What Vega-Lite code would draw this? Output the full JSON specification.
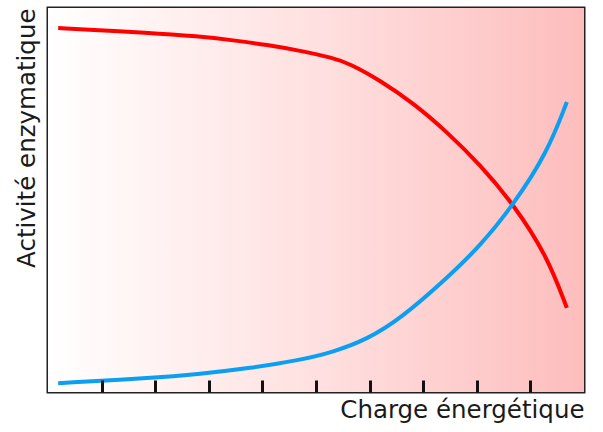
{
  "$schema": "https://vega.github.io/schema/vega-lite/v6.json",
  "width": 536,
  "height": 384,
  "autosize": "none",
  "padding": {"left": 48, "top": 8, "right": 19, "bottom": 40},
  "background": "white",
  "config": {
    "view": {"stroke": "#222222", "strokeWidth": 3},
    "font": "DejaVu Sans"
  },
  "datasets": {
    "curves": [
      {"series": "red", "x": 0.19, "y": 0.948},
      {"series": "red", "x": 1.10, "y": 0.941},
      {"series": "red", "x": 1.72, "y": 0.937},
      {"series": "red", "x": 2.84, "y": 0.926},
      {"series": "red", "x": 3.45, "y": 0.916},
      {"series": "red", "x": 4.09, "y": 0.904},
      {"series": "red", "x": 4.70, "y": 0.889},
      {"series": "red", "x": 5.32, "y": 0.870},
      {"series": "red", "x": 5.63, "y": 0.855},
      {"series": "red", "x": 6.19, "y": 0.812},
      {"series": "red", "x": 6.81, "y": 0.753},
      {"series": "red", "x": 7.44, "y": 0.678},
      {"series": "red", "x": 8.06, "y": 0.592},
      {"series": "red", "x": 8.68, "y": 0.490},
      {"series": "red", "x": 9.31, "y": 0.355},
      {"series": "red", "x": 9.68, "y": 0.219},
      {"series": "blue", "x": 0.19, "y": 0.023},
      {"series": "blue", "x": 1.90, "y": 0.036},
      {"series": "blue", "x": 2.84, "y": 0.047},
      {"series": "blue", "x": 3.77, "y": 0.062},
      {"series": "blue", "x": 4.70, "y": 0.083},
      {"series": "blue", "x": 5.32, "y": 0.104},
      {"series": "blue", "x": 5.95, "y": 0.137},
      {"series": "blue", "x": 6.57, "y": 0.190},
      {"series": "blue", "x": 7.44, "y": 0.296},
      {"series": "blue", "x": 8.06, "y": 0.380},
      {"series": "blue", "x": 8.68, "y": 0.487},
      {"series": "blue", "x": 9.31, "y": 0.622},
      {"series": "blue", "x": 9.68, "y": 0.755}
    ],
    "bg": [{"x0": 0, "x1": 10, "y0": 0, "y1": 1}]
  },
  "layer": [
    {
      "data": {"name": "bg"},
      "mark": {
        "type": "rect",
        "fill": {
          "gradient": "linear",
          "x1": 0, "x2": 1, "y1": 0, "y2": 0,
          "stops": [
            {"offset": 0, "color": "#ffffff"},
            {"offset": 0.5, "color": "#ffe0e0"},
            {"offset": 1, "color": "#fdbdbd"}
          ]
        }
      },
      "encoding": {
        "x": {
          "field": "x0", "type": "quantitative",
          "scale": {"domain": [0, 10], "nice": false, "zero": false},
          "axis": {
            "values": [1, 2, 3, 4, 5, 6, 7, 8, 9],
            "labels": false,
            "domain": false,
            "grid": false,
            "ticks": true,
            "tickSize": -12,
            "tickWidth": 3,
            "tickColor": "#111111",
            "zindex": 1,
            "title": "Charge énergétique",
            "titleFont": "DejaVu Sans",
            "titleFontSize": 24.5,
            "titleFontWeight": "normal",
            "titleColor": "#1a1a1a",
            "titleAnchor": "end",
            "titlePadding": 5
          }
        },
        "x2": {"field": "x1"},
        "y": {
          "field": "y0", "type": "quantitative",
          "scale": {"domain": [0, 1], "nice": false, "zero": false},
          "axis": {
            "labels": false,
            "ticks": false,
            "domain": false,
            "grid": false,
            "title": "Activité enzymatique",
            "titleFont": "DejaVu Sans",
            "titleFontSize": 24.5,
            "titleFontWeight": "normal",
            "titleColor": "#1a1a1a",
            "titleAnchor": "end",
            "titlePadding": 9
          }
        },
        "y2": {"field": "y1"}
      }
    },
    {
      "data": {"name": "curves"},
      "mark": {"type": "line", "strokeWidth": 4, "interpolate": "basis"},
      "encoding": {
        "x": {"field": "x", "type": "quantitative"},
        "y": {"field": "y", "type": "quantitative"},
        "detail": {"field": "series"},
        "color": {
          "field": "series", "type": "nominal",
          "scale": {"domain": ["red", "blue"], "range": ["#ff0000", "#0a9ff0"]},
          "legend": null
        }
      }
    }
  ]
}
